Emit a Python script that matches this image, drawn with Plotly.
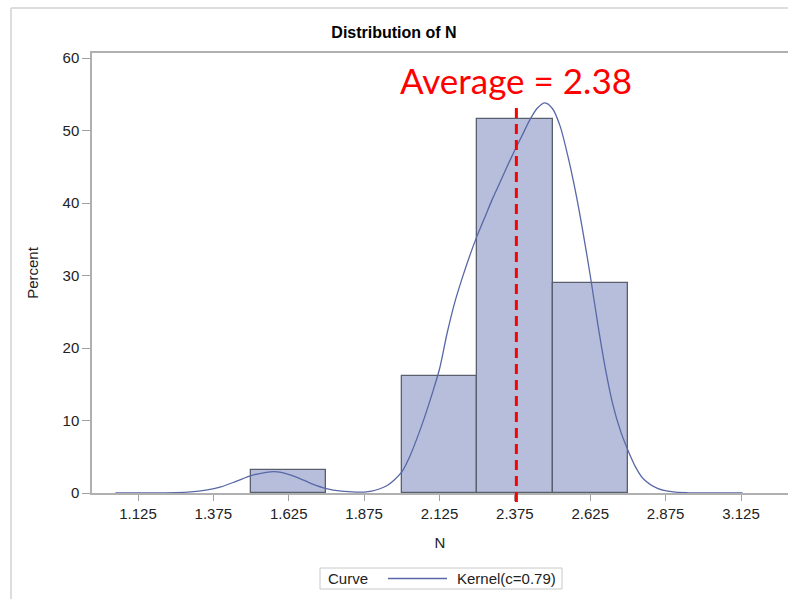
import plotly.graph_objects as go

# Histogram of N (percent of observations per bin)
bin_centers = [1.625, 2.125, 2.375, 2.625]
bin_width = 0.25
bin_percent = [3.23, 16.13, 51.61, 29.03]

# Kernel density estimate, in percent units
kernel_x = [1.05, 1.15, 1.25, 1.30, 1.35, 1.40, 1.45, 1.50, 1.55, 1.575, 1.60, 1.65,
            1.70, 1.75, 1.80, 1.85, 1.875, 1.90, 1.925, 1.95, 1.975, 2.00, 2.025, 2.05,
            2.075, 2.10, 2.125, 2.15, 2.175, 2.20, 2.225, 2.25, 2.275, 2.30, 2.325,
            2.35, 2.375, 2.40, 2.425, 2.45, 2.475, 2.50, 2.525, 2.55, 2.575, 2.60,
            2.625, 2.65, 2.675, 2.70, 2.725, 2.75, 2.775, 2.80, 2.85, 2.90, 2.95,
            3.00, 3.13]
kernel_y = [0.0, 0.0, 0.05, 0.15, 0.4, 0.85, 1.6, 2.4, 2.85, 2.95, 2.85, 2.2,
            1.3, 0.6, 0.25, 0.12, 0.12, 0.25, 0.55, 1.0, 1.8, 2.9, 4.9, 7.5,
            10.4, 13.6, 17.1, 22.0, 26.2, 29.6, 32.7, 35.5, 38.0, 40.5, 42.8,
            45.1, 47.3, 49.4, 51.5, 53.1, 53.8, 53.0, 50.6, 46.6, 41.8, 36.2,
            30.0, 23.3, 17.2, 12.2, 8.6, 5.9, 3.6, 2.0, 0.6, 0.15, 0.03,
            0.0, 0.0]

mean_n = 2.38

x_tickvals = [1.125, 1.375, 1.625, 1.875, 2.125, 2.375, 2.625, 2.875, 3.125]
x_ticktext = ["1.125", "1.375", "1.625", "1.875", "2.125", "2.375", "2.625", "2.875", "3.125"]
y_tickvals = [0, 10, 20, 30, 40, 50, 60]

FONT = "Liberation Sans, Arial, sans-serif"
W, H = 788, 599
ML, MR, MT, MB = 92, 0, 53, 106
PW, PH = W - ML - MR, H - MT - MB


def px(xp):
    return (xp - ML) / PW


def py(yp):
    return (H - MB - yp) / PH


fig = go.Figure()

fig.add_trace(go.Bar(
    x=bin_centers, y=bin_percent, width=bin_width,
    marker=dict(color="rgb(182,190,219)", line=dict(color="rgb(90,95,110)", width=1.3)),
    showlegend=False, hoverinfo="x+y",
))

fig.add_trace(go.Scatter(
    x=kernel_x, y=kernel_y, mode="lines",
    line=dict(color="rgb(88,104,166)", width=1.3, shape="spline", smoothing=0.8),
    showlegend=False,
))

shapes = [
    # mean line
    dict(type="line", xref="x", yref="paper", x0=mean_n, x1=mean_n,
         y0=py(502), y1=py(105), line=dict(color="#ff0000", width=3, dash="10px,6px"),
         layer="above"),
    # outer frame
    dict(type="line", xref="paper", yref="paper", x0=px(11), x1=px(788),
         y0=py(8), y1=py(8), line=dict(color="#d2d2d2", width=1.5)),
    dict(type="line", xref="paper", yref="paper", x0=px(11), x1=px(11),
         y0=py(8), y1=py(602), line=dict(color="#d2d2d2", width=1.5)),
    # legend box
    dict(type="rect", xref="paper", yref="paper", x0=px(320), x1=px(562),
         y0=py(589), y1=py(568), line=dict(color="#c8c8c8", width=1), fillcolor="white"),
    dict(type="line", xref="paper", yref="paper", x0=px(388), x1=px(447),
         y0=py(578.5), y1=py(578.5), line=dict(color="rgb(88,104,166)", width=1.3)),
]

annotations = [
    dict(text=f"Average = {mean_n}", x=mean_n, xref="x", y=py(80), yref="paper",
         xanchor="center", yanchor="middle", showarrow=False,
         font=dict(family="Lato, Calibri, sans-serif", size=35, color="#ff0000")),
    dict(text="Curve", x=px(326), y=py(578.5), xref="paper", yref="paper",
         xanchor="left", yanchor="middle", showarrow=False,
         font=dict(family=FONT, size=15, color="#222")),
    dict(text="Kernel(c=0.79)", x=px(455), y=py(578.5), xref="paper", yref="paper",
         xanchor="left", yanchor="middle", showarrow=False,
         font=dict(family=FONT, size=15, color="#222")),
]

fig.update_layout(
    width=W, height=H,
    margin=dict(l=ML, r=MR, t=MT, b=MB, pad=0),
    paper_bgcolor="white", plot_bgcolor="white",
    font=dict(family=FONT, size=15, color="#222"),
    title=dict(text="<b>Distribution of N</b>", x=px(440), xanchor="center",
               y=1 - 32 / H, yanchor="middle", font=dict(family=FONT, size=16, color="#000")),
    bargap=0,
    shapes=shapes,
    annotations=annotations,
)

fig.update_xaxes(
    range=[1.125 - 46 / 301.5, 1.125 + 650 / 301.5],
    tickvals=x_tickvals, ticktext=x_ticktext,
    ticks="outside", ticklen=6, tickcolor="#a0a0a0", tickwidth=1.3,
    showline=True, linecolor="#b0b0b0", linewidth=1.5, mirror=True,
    showgrid=False, zeroline=False,
    tickfont=dict(size=15, color="#222"),
    title=dict(text="N", standoff=17, font=dict(size=15, color="#222")),
)

fig.update_yaxes(
    range=[0, 440 / 7.25],
    tickvals=y_tickvals,
    ticks="outside", ticklen=8, tickcolor="#a0a0a0", tickwidth=1.3,
    showline=True, linecolor="#b0b0b0", linewidth=1.5,
    showgrid=False, zeroline=False,
    tickfont=dict(size=15, color="#222"),
    title=dict(text="Percent", standoff=20, font=dict(size=15, color="#222")),
)

fig.write_html("out.html")
